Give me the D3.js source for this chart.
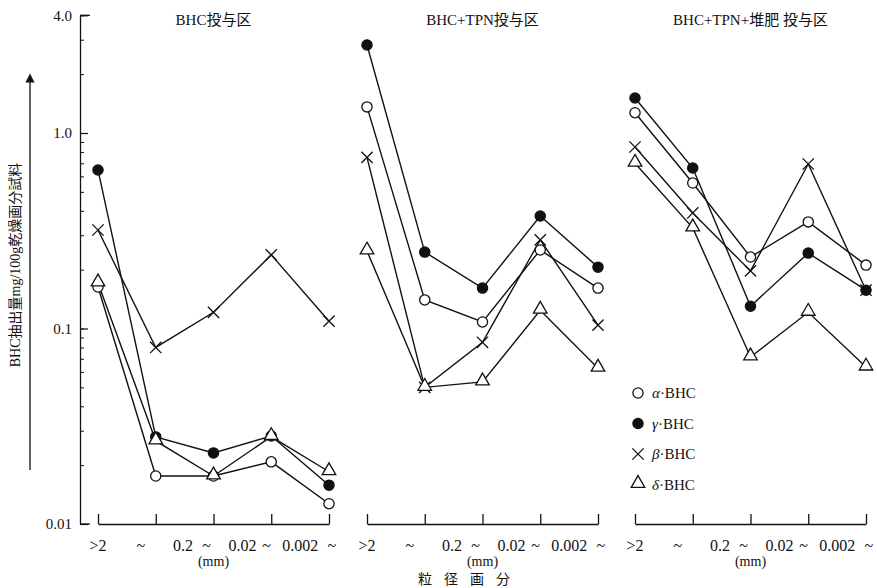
<!DOCTYPE html>
<html>
<head>
<meta charset="utf-8">
<script src="https://cdn.jsdelivr.net/npm/d3@7"></script>
<style>
  body { margin: 0; background: #fff; }
  text { font-family: "Liberation Serif", "Noto Sans CJK JP", serif; fill: #111; }
</style>
</head>
<body>
<div id="chart"></div>
<script>
// categories (particle size fractions) and axis labels
var categories = [">2", "2~0.2", "0.2~0.02", "0.02~0.002", "0.002~"];
var xLabels = [">2", "~", "0.2", "~", "0.02", "~", "0.002", "~"];
var xLabelPos = [0, 0.74, 1.47, 1.88, 2.5, 2.92, 3.5, 4.05];
var yLabels = [0.01, 0.1, 1, 4];
var panelTitles = ["BHC投与区", "BHC+TPN投与区", "BHC+TPN+堆肥 投与区"];
var isomers = ["α", "γ", "β", "δ"];

// BHC投与区
var p1Alpha = [0.163, 0.0176, 0.0176, 0.0208, 0.0127];
var p1Gamma = [0.647, 0.0279, 0.0231, 0.0282, 0.0158];
var p1Beta  = [0.319, 0.080, 0.121, 0.238, 0.109];
var p1Delta = [0.171, 0.0266, 0.0176, 0.028, 0.0185];
// BHC+TPN投与区
var p2Alpha = [1.36, 0.140, 0.108, 0.252, 0.161];
var p2Gamma = [2.82, 0.246, 0.161, 0.376, 0.206];
var p2Beta  = [0.75, 0.050, 0.085, 0.284, 0.104];
var p2Delta = [0.249, 0.050, 0.0533, 0.124, 0.0626];
// BHC+TPN+堆肥 投与区
var p3Alpha = [1.27, 0.555, 0.232, 0.351, 0.211];
var p3Gamma = [1.51, 0.662, 0.130, 0.243, 0.157];
var p3Beta  = [0.848, 0.390, 0.197, 0.694, 0.157];
var p3Delta = [0.70, 0.327, 0.0715, 0.121, 0.0635];

var panels = [
  {title: panelTitles[0], x0: 98,  series: [p1Alpha, p1Gamma, p1Beta, p1Delta]},
  {title: panelTitles[1], x0: 367, series: [p2Alpha, p2Gamma, p2Beta, p2Delta]},
  {title: panelTitles[2], x0: 635, series: [p3Alpha, p3Gamma, p3Beta, p3Delta]}
];

var width = 877, height = 588;
var axisX = 80, bottom = 524;
var ink = "#111";

var svg = d3.select("#chart").append("svg")
    .attr("width", width)
    .attr("height", height);

svg.append("defs").append("marker")
    .attr("id", "arrow")
    .attr("viewBox", "0 0 10 10")
    .attr("refX", 5).attr("refY", 5)
    .attr("markerWidth", 7).attr("markerHeight", 9)
    .attr("orient", "auto")
  .append("path")
    .attr("d", "M0,0 L10,5 L0,10 Z")
    .attr("fill", ink);

// log y scale
var y = d3.scaleLog()
    .domain([0.01, 4])
    .range([bottom, bottom - 195.5 * Math.log10(400)]);

// y axis: minor ticks
var minor = svg.append("g")
    .attr("transform", "translate(" + axisX + ",0)")
    .call(d3.axisLeft(y).ticks(20).tickSize(-4).tickFormat(""));
minor.select(".domain").remove();
minor.selectAll("line").attr("stroke", ink).attr("stroke-width", 1);

// y axis: major ticks + labels
var major = svg.append("g")
    .attr("transform", "translate(" + axisX + ",0)")
    .call(d3.axisLeft(y).tickValues(yLabels).tickSize(-8).tickSizeOuter(0).tickPadding(8)
        .tickFormat(function(d) { return d === 0.01 ? "0.01" : d3.format(".1f")(d); }));
major.select(".domain").attr("stroke", ink).attr("stroke-width", 1.3);
major.selectAll("line").attr("stroke", ink).attr("stroke-width", 1.2);
major.selectAll("text").style("font-size", "15px").style("fill", ink);
// bracket ends at top and bottom of y axis
svg.append("line").attr("x1", axisX).attr("x2", axisX + 10)
    .attr("y1", y(4)).attr("y2", y(4)).attr("stroke", ink).attr("stroke-width", 1.3);
svg.append("line").attr("x1", axisX).attr("x2", axisX + 10)
    .attr("y1", y(0.01)).attr("y2", y(0.01)).attr("stroke", ink).attr("stroke-width", 1.3);

// y title with arrow
svg.append("line")
    .attr("x1", 30).attr("x2", 30)
    .attr("y1", 470).attr("y2", 78)
    .attr("stroke", ink).attr("stroke-width", 1.3)
    .attr("marker-end", "url(#arrow)");
svg.append("text")
    .attr("transform", "translate(20,265) rotate(-90)")
    .attr("text-anchor", "middle")
    .style("font-size", "14px")
    .text("BHC抽出量mg/100g乾燥画分試料");

var line = d3.line();

var symbolFor = {
  "α": {type: d3.symbolCircle, size: 82, fill: "#fff"},
  "γ": {type: d3.symbolCircle, size: 82, fill: ink},
  "β": {type: d3.symbolTimes, size: 85, fill: "none"},
  "δ": {type: d3.symbolTriangle, size: 80, fill: "#fff"}
};

function drawMarker(g, iso, cx, cy) {
  var s = symbolFor[iso];
  return g.append("path")
      .attr("d", d3.symbol().type(s.type).size(s.size)())
      .attr("transform", "translate(" + cx + "," + (iso === "δ" ? cy - 1 : cy) + ")")
      .attr("stroke", ink)
      .attr("stroke-width", 1.3)
      .attr("fill", s.fill);
}

panels.forEach(function(p) {
  var x = d3.scaleLinear().domain([0, 4]).range([p.x0, p.x0 + 231]);
  var g = svg.append("g");

  // x axis
  var ax = g.append("g")
      .attr("transform", "translate(0," + bottom + ")")
      .call(d3.axisBottom(x).tickValues(d3.range(categories.length)).tickSize(-10).tickSizeOuter(0).tickFormat(""));
  ax.select(".domain").attr("stroke", ink).attr("stroke-width", 1.3);
  ax.selectAll("line").attr("stroke", ink).attr("stroke-width", 1.3);

  g.selectAll(".xl")
    .data(xLabels)
    .enter().append("text")
      .attr("x", function(d, i) { return x(xLabelPos[i]); })
      .attr("y", 551)
      .attr("text-anchor", "middle")
      .style("font-size", "16px")
      .text(function(d) { return d; });

  g.append("text")
      .attr("x", x(2)).attr("y", 566)
      .attr("text-anchor", "middle")
      .style("font-size", "14px")
      .text("(mm)");

  g.append("text")
      .attr("x", x(2)).attr("y", 25)
      .attr("text-anchor", "middle")
      .style("font-size", "15px")
      .text(p.title);

  // lines
  p.series.forEach(function(vals) {
    g.append("path")
      .attr("d", line(vals.map(function(v, i) { return [x(i), y(v)]; })))
      .attr("fill", "none")
      .attr("stroke", ink)
      .attr("stroke-width", 1.4);
  });
  // markers on top
  p.series.forEach(function(vals, k) {
    vals.forEach(function(v, i) { drawMarker(g, isomers[k], x(i), y(v)); });
  });
});

// legend
var legend = svg.append("g");
isomers.forEach(function(iso, i) {
  var ly = 393 + i * 30.5;
  drawMarker(legend, iso, 638, ly);
  var t = legend.append("text")
      .attr("x", 652).attr("y", ly + 5)
      .style("font-size", "15px");
  t.append("tspan").style("font-style", "italic").text(iso);
  t.append("tspan").text("·BHC");
});

// bottom title
svg.append("text")
    .attr("x", 470).attr("y", 584)
    .attr("text-anchor", "middle")
    .style("font-size", "14px")
    .style("letter-spacing", "12px")
    .text("粒径画分");
</script>
</body>
</html>
